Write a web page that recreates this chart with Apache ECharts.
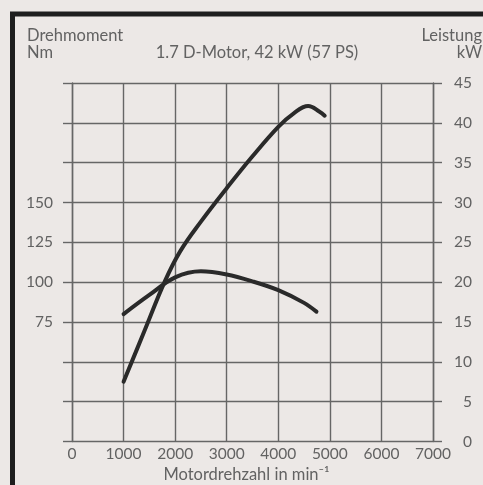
<!DOCTYPE html>
<html>
<head>
<meta charset="utf-8">
<script src="https://cdn.jsdelivr.net/npm/echarts@6/dist/echarts.min.js"></script>
<style>
  html, body { margin: 0; padding: 0; background: #ece8e6; }
  #chart { width: 483px; height: 485px; }
</style>
</head>
<body>
<div id="chart"></div>
<script>
// engine speed (rpm) and curves
const powerRpm = [1000, 1400, 1800, 2100, 2500, 3000, 3500, 4000, 4300, 4580, 4800, 4900];
const powerKw = [7.5, 13.8, 20.1, 23.9, 27.6, 31.8, 35.8, 39.5, 41.2, 42.1, 41.4, 40.9];
const torqueRpm = [1000, 1500, 2000, 2500, 3000, 3500, 4000, 4500, 4740];
const torqueNm = [80, 92, 103, 106.8, 104.8, 100.5, 95, 87, 81.5];
const torqueLabels = [75, 100, 125, 150];

const chart = echarts.init(document.getElementById('chart'));
const font = 'Lato';
const ink = '#626262';
const lineCol = '#666';
const gridLine = { show: true, lineStyle: { color: lineCol, width: 1.4 } };
const head = (text, x, y, align) => ({
  type: 'text', x: x, y: y,
  style: { text: text, font: '16.5px ' + font, fill: ink, align: align, verticalAlign: 'middle' }
});

let option = {
  backgroundColor: '#ece8e6',
  animation: false,
  grid: { left: 72, right: 50, top: 83, bottom: 43.5, outerBoundsMode: 'none' },
  graphic: [
    { type: 'rect', shape: { x: 12.5, y: 14, width: 520, height: 520 },
      style: { fill: null, stroke: '#1e1e1e', lineWidth: 5 } },
    head('Drehmoment', 27, 36, 'left'),
    head('Nm', 27, 53, 'left'),
    head('Leistung', 482, 36, 'right'),
    head('kW', 482, 53, 'right'),
    head('1.7 D-Motor, 42 kW (57 PS)', 257, 53, 'center')
  ],
  xAxis: {
    type: 'value', min: 0, max: 7000, interval: 1000,
    name: 'Motordrehzahl in min⁻¹', nameLocation: 'middle', nameGap: 25,
    nameTextStyle: { color: ink, fontFamily: font, fontSize: 16.5, padding: [0, 0, 0, -12] },
    axisLine: { show: false },
    axisTick: { show: false },
    axisLabel: { color: ink, fontFamily: font, fontSize: 15.5, margin: 4, formatter: v => String(v) },
    splitLine: gridLine
  },
  yAxis: [
    {
      type: 'value', min: 0, max: 225, interval: 25, position: 'left',
      axisLine: { show: true, lineStyle: { color: lineCol, width: 1.4 } },
      axisTick: { show: true, length: 9, lineStyle: { color: lineCol, width: 1.4 } },
      axisLabel: {
        color: ink, fontFamily: font, fontSize: 15.5, margin: 19,
        formatter: v => torqueLabels.includes(v) ? String(v) : ''
      },
      splitLine: gridLine
    },
    {
      type: 'value', min: 0, max: 45, interval: 5, position: 'right',
      axisLine: { show: true, lineStyle: { color: lineCol, width: 1.4 } },
      axisTick: { show: true, length: 9, lineStyle: { color: lineCol, width: 1.4 } },
      axisLabel: { color: ink, fontFamily: font, fontSize: 15.5, margin: 39, align: 'right' },
      splitLine: { show: false }
    }
  ],
  series: [
    {
      name: 'Leistung', type: 'line', yAxisIndex: 1, smooth: 0.4, showSymbol: false,
      lineStyle: { color: '#2a2a2a', width: 4, cap: 'round' },
      data: powerRpm.map((r, i) => [r, powerKw[i]])
    },
    {
      name: 'Drehmoment', type: 'line', yAxisIndex: 0, smooth: 0.35, showSymbol: false,
      lineStyle: { color: '#2a2a2a', width: 4, cap: 'round' },
      data: torqueRpm.map((r, i) => [r, torqueNm[i]])
    }
  ]
};
option && chart.setOption(option);
</script>
</body>
</html>
